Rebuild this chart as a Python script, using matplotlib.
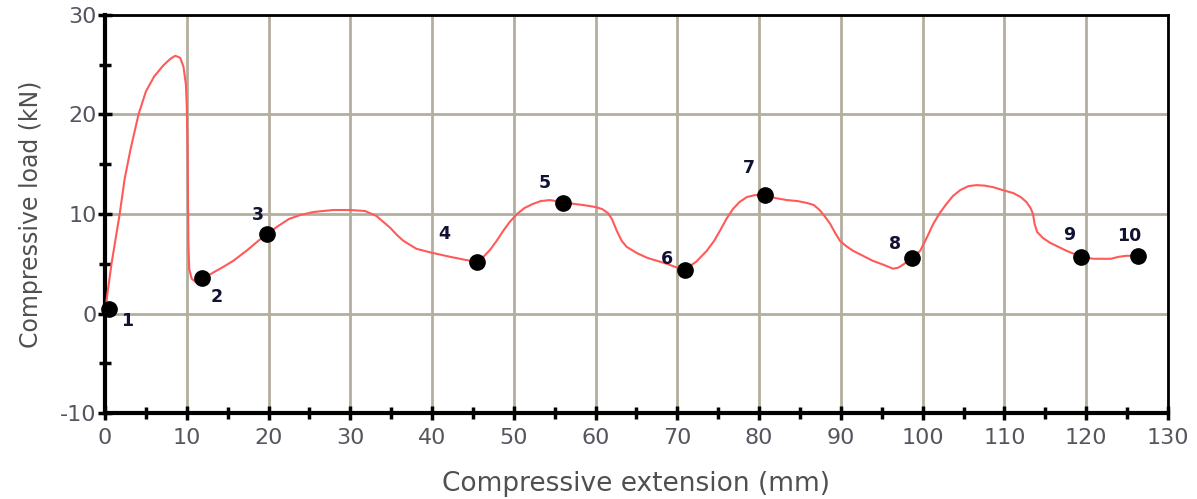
import matplotlib.pyplot as plt
from matplotlib.ticker import MultipleLocator

plt.rcParams['axes.unicode_minus'] = False

# load-extension curve
ext_mm = [0, 0.3, 0.8, 1.2, 1.8, 2.4, 3.1, 4.1, 5.0, 6.0, 7.1, 8.0, 8.6, 9.2, 9.6, 9.9, 10.0, 10.1,
          10.15, 10.2, 10.3, 10.6, 11.2, 12.0, 13.2, 14.5, 15.7, 17.3, 18.6, 19.8, 21.2, 22.5, 23.9,
          25.5, 27.9, 30.0, 31.8, 33.2, 34.2, 34.9, 35.7, 36.5, 38.1, 40.0, 42.2, 44.0, 45.5, 46.3,
          47.1, 47.9, 48.7, 49.5, 50.4, 51.3, 52.3, 53.3, 54.4, 56.0, 57.5, 58.5, 60.0, 60.8, 61.5,
          62.0, 62.6, 63.2, 63.8, 65.0, 66.3, 67.5, 68.7, 70.0, 70.9, 72.3, 73.6, 74.5, 75.2, 76.0,
          76.8, 77.6, 78.5, 79.5, 80.7, 82.0, 83.4, 84.7, 85.9, 86.7, 87.4, 88.0, 88.7, 89.3, 89.9,
          90.6, 91.5, 92.7, 93.9, 95.2, 96.4, 97.0, 97.6, 98.7, 99.7, 100.5, 101.3, 102.1, 102.9,
          103.7, 104.6, 105.6, 106.6, 107.6, 108.6, 109.8, 111.1, 112.0, 112.7, 113.2, 113.5, 113.7,
          114.0, 114.7, 115.6, 116.6, 117.6, 118.5, 119.4, 120.1, 120.9, 122.0, 123.0, 124.0, 124.9,
          125.6, 126.3]
load_kn = [0, 2.0, 5.0, 7.0, 10.0, 13.5, 16.4, 20.0, 22.3, 23.8, 24.9, 25.6, 25.9, 25.7, 24.8, 23.0,
           21.0, 17.0, 12.0, 7.0, 4.5, 3.5, 3.1, 3.5, 4.1, 4.7, 5.3, 6.3, 7.2, 8.0, 8.8, 9.5, 9.9,
           10.2, 10.4, 10.4, 10.3, 9.8, 9.1, 8.6, 7.9, 7.3, 6.5, 6.1, 5.7, 5.4, 5.2, 5.7, 6.4, 7.3,
           8.3, 9.2, 10.0, 10.6, 11.0, 11.3, 11.4, 11.2, 11.0, 10.9, 10.7, 10.5, 10.1, 9.5, 8.3, 7.3,
           6.7, 6.1, 5.6, 5.3, 5.0, 4.6, 4.4, 5.2, 6.3, 7.3, 8.3, 9.5, 10.5, 11.2, 11.7, 11.9, 11.9,
           11.6, 11.4, 11.3, 11.1, 10.9, 10.4, 9.8, 9.0, 8.1, 7.3, 6.8, 6.3, 5.8, 5.3, 4.9, 4.5, 4.6,
           4.9, 5.6, 6.3, 7.6, 9.0, 10.1, 11.0, 11.8, 12.4, 12.8, 12.9, 12.85, 12.7, 12.4, 12.1, 11.7,
           11.2, 10.6, 10.0, 9.0, 8.2, 7.6, 7.1, 6.7, 6.3, 6.0, 5.7, 5.6, 5.5, 5.5, 5.5, 5.7, 5.8,
           5.8, 5.8]

# numbered points
pt_labels = ['1', '2', '3', '4', '5', '6', '7', '8', '9', '10']
pt_ext = [0.5, 11.9, 19.8, 45.5, 56.0, 70.9, 80.7, 98.7, 119.4, 126.3]
pt_load = [0.5, 3.55, 8.0, 5.2, 11.1, 4.4, 11.9, 5.6, 5.7, 5.8]

# where each number sits relative to its point (pixels)
lbl_off = [(18, -12), (14, -19), (-9, 19), (-33, 28), (-18, 20), (-18, 11), (-16, 27),
           (-17, 14), (-12, 22), (-8, 20)]

fig = plt.figure(figsize=(11.97, 4.99), dpi=100)
ax = fig.add_axes([0.0877, 0.1723, 0.888, 0.7977])

ax.plot(ext_mm, load_kn, color='#ff5a5a', lw=1.5, zorder=3)
ax.plot(pt_ext, pt_load, 'o', color='black', ms=11, zorder=4, clip_on=False)
for lab, x, y, off in zip(pt_labels, pt_ext, pt_load, lbl_off):
    ax.annotate(lab, (x, y), xytext=off, textcoords='offset pixels', ha='center', va='center',
                fontsize=12.5, fontweight='bold', color='#111133', zorder=5)

ax.set_xlim(0, 130)
ax.set_ylim(-10, 30)
ax.xaxis.set_major_locator(MultipleLocator(10))
ax.xaxis.set_minor_locator(MultipleLocator(5))
ax.yaxis.set_major_locator(MultipleLocator(10))
ax.yaxis.set_minor_locator(MultipleLocator(5))
ax.grid(True, which='major', color='#b3ae9e', lw=2, zorder=1)
ax.set_axisbelow(True)

ax.tick_params(which='both', direction='inout', color='black', width=2.5, labelsize=16,
               labelcolor='#555560')
ax.tick_params(which='major', length=10)
ax.tick_params(which='minor', length=9)
ax.tick_params(axis='x', pad=6)
ax.tick_params(axis='y', pad=1)

for s in ['left', 'bottom']:
    ax.spines[s].set_linewidth(3)
for s in ['top', 'right']:
    ax.spines[s].set_linewidth(2)

ax.set_xlabel('Compressive extension (mm)', fontsize=19, color='#505050', labelpad=16)
ax.set_ylabel('Compressive load (kN)', fontsize=17, color='#505050', labelpad=12)

fig.savefig('out.png', dpi=100)
